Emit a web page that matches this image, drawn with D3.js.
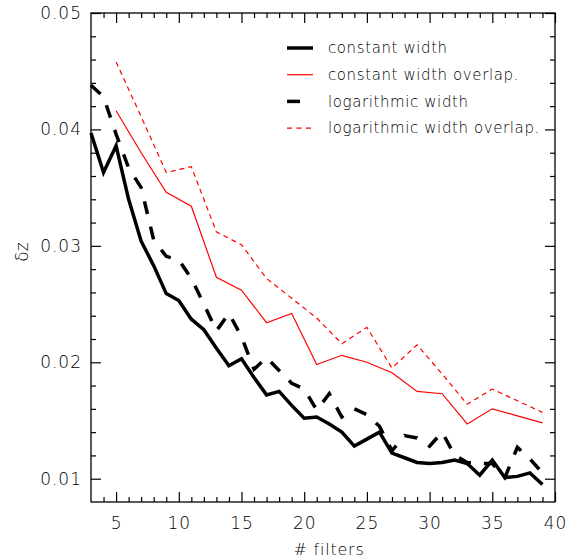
<!DOCTYPE html>
<html>
<head>
<meta charset="utf-8">
<script src="https://cdn.jsdelivr.net/npm/d3@7"></script>
<style>
  body { margin: 0; background: #fff; }
  text { font-family: "DejaVu Sans", sans-serif; font-weight: 200; fill: #000; }
  .axis path { display: none; }
  .axis line { stroke: #000; stroke-width: 1.2; }
</style>
</head>
<body>
<svg class="chart"></svg>
<script>
// number of filters
var filtersAll = [3,4,5,6,7,8,9,10,11,12,13,14,15,16,17,18,19,20,21,22,23,24,25,26,27,28,29,30,31,32,33,34,35,36,37,38,39];
var filtersOverlap = [5,7,9,11,13,15,17,19,21,23,25,27,29,31,33,35,37,39];

// delta z values
var constWidth = [0.0397,0.0363,0.0386,0.0340,0.0304,0.0283,0.0259,0.0253,0.0237,0.0228,0.0212,0.0197,0.0203,0.0187,0.0172,0.0175,0.0163,0.0152,0.0153,0.0147,0.0140,0.0128,0.0134,0.0140,0.0122,0.0118,0.0114,0.0113,0.0114,0.0116,0.0113,0.0103,0.0116,0.0101,0.0102,0.0105,0.0095];
var logWidth = [0.0438,0.0428,0.0396,0.0367,0.0350,0.0305,0.0291,0.0288,0.0272,0.0250,0.0227,0.0242,0.0222,0.0194,0.0204,0.0193,0.0182,0.0177,0.0159,0.0173,0.0153,0.0160,0.0155,0.0145,0.0124,0.0137,0.0135,0.0128,0.0140,0.0120,0.0114,0.0113,0.0113,0.0101,0.0127,0.0117,0.0105];
var constOverlap = [0.0416,0.0380,0.0346,0.0334,0.0273,0.0262,0.0234,0.0242,0.0198,0.0206,0.0200,0.0191,0.0175,0.0173,0.0147,0.0160,0.0154,0.0148];
var logOverlap = [0.0458,0.0411,0.0363,0.0368,0.0312,0.0301,0.0272,0.0255,0.0238,0.0216,0.0230,0.0195,0.0215,0.0190,0.0164,0.0177,0.0167,0.0157];

// ticks
var xMajor = [5,10,15,20,25,30,35,40];
var xMinor = d3.range(4, 40).filter(function(d) { return d % 5 != 0; });
var yMajor = [0.01,0.02,0.03,0.04,0.05];
var yMinor = [0.012,0.014,0.016,0.018,0.022,0.024,0.026,0.028,0.032,0.034,0.036,0.038,0.042,0.044,0.046,0.048];

var seriesNames = ["constant width", "constant width overlap.", "logarithmic width", "logarithmic width overlap."];

var margin = {top: 13, right: 30, bottom: 58, left: 91},
    width = 585 - margin.left - margin.right,
    height = 560 - margin.top - margin.bottom;

var svg = d3.select(".chart")
    .attr("width", 585)
    .attr("height", 560);

var g = svg.append("g")
    .attr("transform", "translate(" + margin.left + "," + margin.top + ")");

var x = d3.scaleLinear().domain([3, 40]).range([0, width]);
var y = d3.scaleLinear().domain([0.008, 0.05]).range([height, 0]);

// AXES: major + minor, ticks inward on all four sides
function addAxis(axisFn, scale, values, size, cls, transform, fmt) {
  var a = axisFn(scale).tickValues(values).tickSizeInner(-size).tickSizeOuter(0).tickPadding(9);
  a.tickFormat(fmt || "");
  g.append("g")
    .attr("class", "axis " + cls)
    .attr("transform", transform)
    .call(a);
}

addAxis(d3.axisBottom, x, xMajor, 10, "xb", "translate(0," + height + ")", d3.format("d"));
addAxis(d3.axisBottom, x, xMinor, 5, "xb", "translate(0," + height + ")");
addAxis(d3.axisTop, x, xMajor, 10, "xt", "translate(0,0)");
addAxis(d3.axisTop, x, xMinor, 5, "xt", "translate(0,0)");
addAxis(d3.axisLeft, y, yMajor, 10, "yl", "translate(0,0)", d3.format(".2f"));
addAxis(d3.axisLeft, y, yMinor, 5, "yl", "translate(0,0)");
addAxis(d3.axisRight, y, yMajor, 10, "yr", "translate(" + width + ",0)");
addAxis(d3.axisRight, y, yMinor, 5, "yr", "translate(" + width + ",0)");

g.selectAll(".axis text")
    .style("font-size", "17px")
    .style("letter-spacing", "1px");
g.selectAll(".xb text").attr("dy", "1.05em");

// frame
g.append("rect")
    .attr("width", width)
    .attr("height", height)
    .attr("fill", "none")
    .attr("stroke", "#000")
    .attr("stroke-width", 1.3);

// axis titles
svg.append("text")
    .attr("x", 329)
    .attr("y", 555)
    .attr("text-anchor", "middle")
    .style("font-size", "16px")
    .style("letter-spacing", "0.8px")
    .text("# filters");

svg.append("text")
    .attr("transform", "translate(28,252) rotate(-90)")
    .attr("text-anchor", "middle")
    .style("font-size", "17px")
    .text("δz");

// LINES
var line = d3.line()
    .x(function(d) { return x(d[0]); })
    .y(function(d) { return y(d[1]); });

var styles = [
  {color: "#000", w: 3.5, dash: null},
  {color: "#ff0000", w: 1.2, dash: null},
  {color: "#000", w: 3.5, dash: "13,13"},
  {color: "#ff0000", w: 1.2, dash: "5,4"}
];

var series = [
  d3.zip(filtersAll, constWidth),
  d3.zip(filtersOverlap, constOverlap),
  d3.zip(filtersAll, logWidth),
  d3.zip(filtersOverlap, logOverlap)
];

g.selectAll(".series").data(series)
  .enter().append("path")
    .attr("class", "series")
    .attr("d", line)
    .attr("fill", "none")
    .attr("stroke", function(d, i) { return styles[i].color; })
    .attr("stroke-width", function(d, i) { return styles[i].w; })
    .attr("stroke-dasharray", function(d, i) { return styles[i].dash; });

// LEGEND
var legend = svg.append("g").attr("class", "legend");
var rows = legend.selectAll(".row").data(seriesNames)
  .enter().append("g")
    .attr("class", "row")
    .attr("transform", function(d, i) { return "translate(287," + (48 + i * 26.7) + ")"; });

rows.append("line")
    .attr("x1", 0)
    .attr("x2", function(d, i) { return i == 2 ? 13 : 26; })
    .attr("stroke", function(d, i) { return styles[i].color; })
    .attr("stroke-width", function(d, i) { return styles[i].w; })
    .attr("stroke-dasharray", function(d, i) { return i == 3 ? "5,4.5" : null; });

rows.append("text")
    .attr("x", 41)
    .attr("dy", "0.35em")
    .style("font-size", "15px")
    .style("letter-spacing", "0.6px")
    .text(function(d) { return d; });
</script>
</body>
</html>
